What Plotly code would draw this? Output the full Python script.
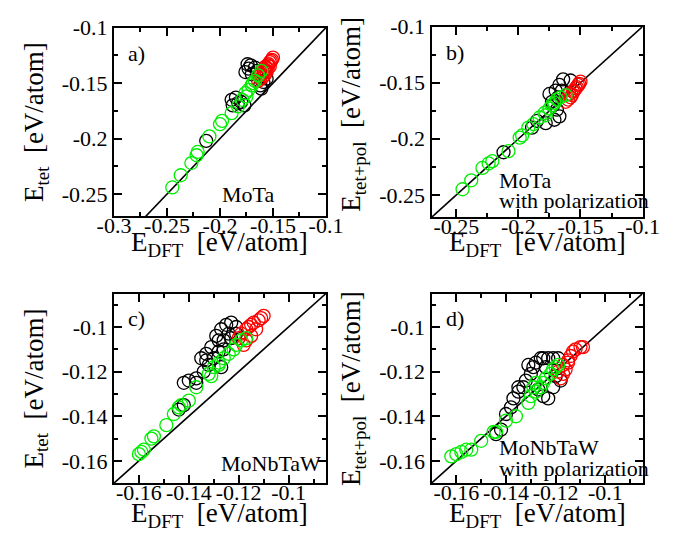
import plotly.graph_objects as go

# ---------------- data ----------------
# panel a: MoTa, E_tet vs E_DFT
a_black_x = [-0.213, -0.189, -0.185, -0.180, -0.177, -0.188, -0.183, -0.174, -0.171, -0.176, -0.170, -0.167, -0.162, -0.159, -0.161, -0.156, -0.173, -0.165]
a_black_y = [-0.202, -0.165, -0.163, -0.167, -0.170, -0.170, -0.168, -0.133, -0.134, -0.140, -0.142, -0.136, -0.152, -0.149, -0.155, -0.146, -0.137, -0.139]
a_red_x = [-0.164, -0.162, -0.161, -0.159, -0.158, -0.157, -0.156, -0.155, -0.154, -0.153, -0.152, -0.151, -0.150, -0.160, -0.158, -0.155, -0.153, -0.163, -0.157]
a_red_y = [-0.148, -0.146, -0.142, -0.141, -0.139, -0.138, -0.140, -0.134, -0.133, -0.131, -0.130, -0.129, -0.127, -0.145, -0.143, -0.137, -0.135, -0.143, -0.135]
a_green_x = [-0.245, -0.237, -0.227, -0.222, -0.221, -0.210, -0.200, -0.198, -0.189, -0.183, -0.179, -0.176, -0.173, -0.170, -0.167, -0.164, -0.161, -0.175, -0.169]
a_green_y = [-0.244, -0.233, -0.222, -0.215, -0.212, -0.198, -0.187, -0.184, -0.177, -0.171, -0.165, -0.159, -0.156, -0.152, -0.148, -0.143, -0.139, -0.162, -0.150]

# panel b: MoTa with polarization, E_tet+pol vs E_DFT
b_black_x = [-0.212, -0.189, -0.185, -0.178, -0.173, -0.171, -0.167, -0.169, -0.175, -0.170, -0.167, -0.164, -0.158, -0.165, -0.172, -0.168]
b_black_y = [-0.212, -0.190, -0.184, -0.186, -0.167, -0.183, -0.180, -0.174, -0.160, -0.157, -0.152, -0.147, -0.148, -0.157, -0.170, -0.163]
b_red_x = [-0.160, -0.158, -0.157, -0.156, -0.155, -0.154, -0.153, -0.152, -0.151, -0.150, -0.162, -0.159]
b_red_y = [-0.165, -0.163, -0.161, -0.158, -0.157, -0.155, -0.154, -0.152, -0.151, -0.149, -0.167, -0.160]
b_green_x = [-0.245, -0.238, -0.229, -0.224, -0.221, -0.208, -0.199, -0.197, -0.192, -0.188, -0.183, -0.179, -0.175, -0.173, -0.169, -0.166, -0.162, -0.178, -0.171]
b_green_y = [-0.245, -0.237, -0.226, -0.222, -0.220, -0.211, -0.199, -0.197, -0.190, -0.187, -0.181, -0.177, -0.173, -0.170, -0.165, -0.163, -0.161, -0.179, -0.168]

# panel c: MoNbTaW, E_tet vs E_DFT
c_black_x = [-0.144, -0.142, -0.142, -0.140, -0.137, -0.137, -0.134, -0.133, -0.133, -0.131, -0.129, -0.127, -0.125, -0.123, -0.126, -0.124, -0.121, -0.130, -0.128, -0.127, -0.135, -0.128, -0.123, -0.121, -0.132, -0.126]
c_black_y = [-0.137, -0.135, -0.125, -0.124, -0.123, -0.125, -0.120, -0.115, -0.112, -0.109, -0.104, -0.101, -0.099, -0.098, -0.106, -0.103, -0.100, -0.114, -0.111, -0.118, -0.114, -0.106, -0.105, -0.103, -0.117, -0.110]
c_red_x = [-0.120, -0.119, -0.117, -0.116, -0.115, -0.114, -0.112, -0.111, -0.110, -0.117, -0.118, -0.115, -0.113]
c_red_y = [-0.105, -0.103, -0.101, -0.100, -0.099, -0.098, -0.097, -0.096, -0.095, -0.106, -0.108, -0.104, -0.101]
c_green_x = [-0.160, -0.159, -0.158, -0.155, -0.154, -0.149, -0.146, -0.144, -0.143, -0.140, -0.137, -0.132, -0.131, -0.130, -0.128, -0.128, -0.126, -0.124, -0.122, -0.121, -0.119, -0.117]
c_green_y = [-0.157, -0.156, -0.155, -0.150, -0.149, -0.144, -0.139, -0.136, -0.135, -0.133, -0.127, -0.121, -0.122, -0.118, -0.116, -0.117, -0.114, -0.112, -0.110, -0.108, -0.106, -0.105]

# panel d: MoNbTaW with polarization, E_tet+pol vs E_DFT
d_black_x = [-0.144, -0.142, -0.140, -0.138, -0.137, -0.135, -0.133, -0.132, -0.130, -0.129, -0.128, -0.126, -0.125, -0.123, -0.121, -0.119, -0.125, -0.123, -0.121, -0.118, -0.124, -0.120, -0.131, -0.135, -0.127]
d_black_y = [-0.148, -0.146, -0.139, -0.136, -0.132, -0.129, -0.127, -0.124, -0.121, -0.118, -0.116, -0.114, -0.114, -0.114, -0.114, -0.114, -0.131, -0.132, -0.127, -0.124, -0.118, -0.122, -0.117, -0.127, -0.128]
d_red_x = [-0.117, -0.115, -0.114, -0.113, -0.112, -0.110, -0.109, -0.117, -0.116, -0.115, -0.119, -0.118]
d_red_y = [-0.117, -0.115, -0.113, -0.111, -0.110, -0.109, -0.109, -0.121, -0.119, -0.116, -0.120, -0.123]
d_green_x = [-0.162, -0.160, -0.158, -0.156, -0.154, -0.150, -0.145, -0.144, -0.140, -0.136, -0.131, -0.130, -0.128, -0.126, -0.125, -0.124, -0.122, -0.121, -0.120, -0.119, -0.129, -0.128]
d_green_y = [-0.158, -0.157, -0.156, -0.155, -0.155, -0.151, -0.147, -0.147, -0.142, -0.140, -0.134, -0.131, -0.129, -0.127, -0.125, -0.123, -0.121, -0.119, -0.118, -0.117, -0.127, -0.125]

# axis ticks
ab_x_ticks_a = [-0.3, -0.25, -0.2, -0.15, -0.1]
ab_x_text_a = ["-0.3", "-0.25", "-0.2", "-0.15", "-0.1"]
ab_x_ticks_b = [-0.25, -0.2, -0.15, -0.1]
ab_x_text_b = ["-0.25", "-0.2", "-0.15", "-0.1"]
ab_y_ticks = [-0.25, -0.2, -0.15, -0.1]
ab_y_text = ["-0.25", "-0.2", "-0.15", "-0.1"]
cd_ticks = [-0.16, -0.14, -0.12, -0.1]
cd_text = ["-0.16", "-0.14", "-0.12", "-0.1"]

panel_labels = ["a)", "b)", "c)", "d)"]
ytitles = ["E<sub>tet</sub>  [eV/atom]", "E<sub>tet+pol</sub>  [eV/atom]",
           "E<sub>tet</sub>  [eV/atom]", "E<sub>tet+pol</sub>  [eV/atom]"]
xtitle = "E<sub>DFT</sub>  [eV/atom]"

# ---------------- layout geometry ----------------
W, H = 690, 535
FONT = "Liberation Serif, Times New Roman, Times, serif"
BLACK, RED, GREEN = "#000000", "#ff0000", "#00ee00"

def px_x(p):
    return p / W

def px_y(p):
    return 1 - p / H

panels = [
    dict(data=[(a_black_x, a_black_y), (a_red_x, a_red_y), (a_green_x, a_green_y)],
         xr=[-0.3, -0.1], yr=[-0.27, -0.1], xdom=(102, 325), ydom=(16, 209),
         xt=(ab_x_ticks_a, ab_x_text_a), yt=(ab_y_ticks, ab_y_text), minor=0.025,
         xt_off=28, yt_shift=0),
    dict(data=[(b_black_x, b_black_y), (b_red_x, b_red_y), (b_green_x, b_green_y)],
         xr=[-0.27, -0.1], yr=[-0.27, -0.1], xdom=(436, 658), ydom=(15, 210),
         xt=(ab_x_ticks_b, ab_x_text_b), yt=(ab_y_ticks, ab_y_text), minor=0.025,
         xt_off=27, yt_shift=-8),
    dict(data=[(c_black_x, c_black_y), (c_red_x, c_red_y), (c_green_x, c_green_y)],
         xr=[-0.17, -0.085], yr=[-0.17, -0.085], xdom=(102, 325), ydom=(288, 482),
         xt=(cd_ticks, cd_text), yt=(cd_ticks, cd_text), minor=0.01,
         xt_off=33, yt_shift=0),
    dict(data=[(d_black_x, d_black_y), (d_red_x, d_red_y), (d_green_x, d_green_y)],
         xr=[-0.17, -0.085], yr=[-0.17, -0.085], xdom=(436, 658), ydom=(288, 482),
         xt=(cd_ticks, cd_text), yt=(cd_ticks, cd_text), minor=0.01,
         xt_off=33, yt_shift=0),
]

fig = go.Figure()
layout = {}
colors = [BLACK, RED, GREEN]
annotations = []

for i, p in enumerate(panels):
    sfx = "" if i == 0 else str(i + 1)
    xref, yref = "x" + sfx, "y" + sfx
    # diagonal y = x
    lo = min(p["xr"][0], p["yr"][0])
    hi = max(p["xr"][1], p["yr"][1])
    fig.add_trace(go.Scatter(x=[lo, hi], y=[lo, hi], mode="lines",
                             line=dict(color=BLACK, width=1.6),
                             xaxis=xref, yaxis=yref, showlegend=False, hoverinfo="skip"))
    for (xs, ys), col in zip(p["data"], colors):
        fig.add_trace(go.Scatter(x=xs, y=ys, mode="markers",
                                 marker=dict(symbol="circle-open", size=13,
                                             color=col, line=dict(color=col, width=1.3)),
                                 xaxis=xref, yaxis=yref, showlegend=False))
    common = dict(showline=True, linewidth=2, linecolor=BLACK, mirror="allticks",
                  ticks="inside", ticklen=8, tickwidth=1.6, tickcolor=BLACK,
                  showgrid=False, zeroline=False, tickmode="array",
                  tickfont=dict(family=FONT, size=22, color=BLACK),
                  minor=dict(ticks="inside", ticklen=4, tickwidth=1.6, tickcolor=BLACK,
                             tick0=-0.3, dtick=p["minor"], showgrid=False))
    layout["xaxis" + sfx] = dict(common, domain=[px_x(p["xdom"][0]), px_x(p["xdom"][1])],
                                 range=p["xr"], anchor=yref, ticklabelstandoff=-12,
                                 tickvals=p["xt"][0], ticktext=p["xt"][1])
    layout["yaxis" + sfx] = dict(common, domain=[px_y(p["ydom"][1]), px_y(p["ydom"][0])],
                                 range=p["yr"], anchor=xref,
                                 tickvals=p["yt"][0], ticktext=p["yt"][1])
    xc = (p["xdom"][0] + p["xdom"][1]) / 2
    yc = (p["ydom"][0] + p["ydom"][1]) / 2 + p["yt_shift"]
    # x title
    annotations.append(dict(text=xtitle, x=px_x(xc), y=px_y(p["ydom"][1] + p["xt_off"]),
                            xref="paper", yref="paper", xanchor="center", yanchor="middle",
                            showarrow=False, font=dict(family=FONT, size=27, color=BLACK)))
    # y title
    annotations.append(dict(text=ytitles[i], x=px_x(p["xdom"][0] - 82), y=px_y(yc),
                            xref="paper", yref="paper", xanchor="center", yanchor="middle",
                            textangle=-90, showarrow=False,
                            font=dict(family=FONT, size=27, color=BLACK)))
    # panel label
    annotations.append(dict(text=panel_labels[i], x=px_x(p["xdom"][0] + 13), y=px_y(p["ydom"][0] + 26),
                            xref="paper", yref="paper", xanchor="left", yanchor="middle",
                            showarrow=False, font=dict(family=FONT, size=22, color=BLACK)))

def note(text, x, y):
    annotations.append(dict(text=text, x=px_x(x), y=px_y(y), xref="paper", yref="paper",
                            xanchor="left", yanchor="middle", showarrow=False,
                            font=dict(family=FONT, size=22, color=BLACK)))

note("MoTa", 213, 187)
note("MoTa", 505, 172)
note("with polarization", 505, 193)
note("MoNbTaW", 212, 462)
note("MoNbTaW", 505, 446)
note("with polarization", 505, 467)

fig.update_layout(width=W, height=H, margin=dict(l=0, r=0, t=0, b=0),
                  paper_bgcolor="white", plot_bgcolor="white",
                  annotations=annotations, **layout)

fig.write_html("out.html")
